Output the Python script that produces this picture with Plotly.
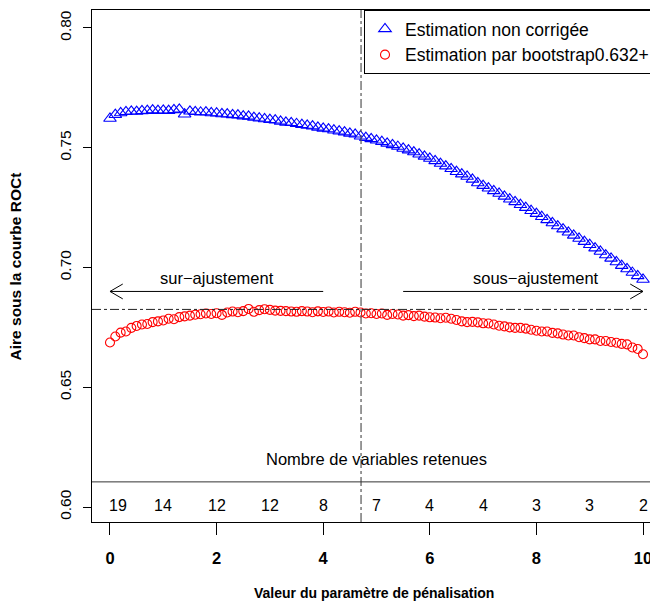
import plotly.graph_objects as go

x_vals = [round(i * 0.1, 1) for i in range(101)]

auc_uncorrected = [
    0.7622, 0.7638, 0.7645, 0.7650, 0.7652, 0.7651, 0.7654, 0.7655, 0.7657, 0.7655,
    0.7656, 0.7655, 0.7658, 0.7660, 0.7640, 0.7652, 0.7650, 0.7648, 0.7649, 0.7645,
    0.7644, 0.7641, 0.7640, 0.7637, 0.7636, 0.7632, 0.7631, 0.7626, 0.7623, 0.7620,
    0.7617, 0.7615, 0.7610, 0.7606, 0.7604, 0.7600, 0.7596, 0.7593, 0.7590, 0.7585,
    0.7581, 0.7578, 0.7573, 0.7569, 0.7565, 0.7560, 0.7556, 0.7548, 0.7542, 0.7537,
    0.7531, 0.7525, 0.7518, 0.7512, 0.7505, 0.7497, 0.7490, 0.7482, 0.7473, 0.7464,
    0.7455, 0.7445, 0.7434, 0.7423, 0.7412, 0.7400, 0.7390, 0.7380, 0.7368, 0.7353,
    0.7342, 0.7331, 0.7320, 0.7309, 0.7297, 0.7285, 0.7274, 0.7262, 0.7250, 0.7237,
    0.7225, 0.7212, 0.7199, 0.7186, 0.7173, 0.7160, 0.7147, 0.7134, 0.7121, 0.7108,
    0.7095, 0.7081, 0.7067, 0.7052, 0.7038, 0.7023, 0.7008, 0.6994, 0.6979, 0.6965,
    0.6950,
]

auc_bootstrap = [
    0.6687, 0.6712, 0.6728, 0.6733, 0.6748, 0.6756, 0.6762, 0.6764, 0.6772, 0.6775,
    0.6779, 0.6786, 0.6784, 0.6793, 0.6796, 0.6799, 0.6803, 0.6805, 0.6808, 0.6806,
    0.6809, 0.6802, 0.6812, 0.6816, 0.6813, 0.6818, 0.6827, 0.6815, 0.6822, 0.6826,
    0.6823, 0.6820, 0.6819, 0.6818, 0.6816, 0.6815, 0.6818, 0.6816, 0.6813, 0.6817,
    0.6814, 0.6816, 0.6812, 0.6815, 0.6813, 0.6811, 0.6815, 0.6812, 0.6808, 0.6809,
    0.6806, 0.6808, 0.6802, 0.6806, 0.6804, 0.6799, 0.6801, 0.6797, 0.6799, 0.6795,
    0.6792, 0.6791, 0.6788, 0.6790, 0.6786, 0.6781, 0.6775, 0.6772, 0.6773, 0.6771,
    0.6767, 0.6766, 0.6762, 0.6757, 0.6754, 0.6750, 0.6748, 0.6748, 0.6745, 0.6740,
    0.6736, 0.6733, 0.6733, 0.6727, 0.6725, 0.6720, 0.6716, 0.6716, 0.6709, 0.6705,
    0.6700, 0.6700, 0.6693, 0.6693, 0.6689, 0.6686, 0.6681, 0.6679, 0.6666, 0.6660,
    0.6638,
]

nvar_positions = [0.15, 1, 2, 3, 4, 5, 6, 7, 8, 9, 10]
nvar_labels = ["19", "14", "12", "12", "8", "7", "4", "4", "3", "3", "2"]

x_ticks = [0, 2, 4, 6, 8, 10]
y_ticks = [0.60, 0.65, 0.70, 0.75, 0.80]

optimal_lambda = 4.71
bootstrap_max = 0.6825
separator_y = 0.6105
nvar_title_y = 0.620
nvar_label_y = 0.6005
arrow_y = 0.690
arrow_text_y = 0.6955
left_arrow = (4.0, 0.0)
right_arrow = (5.5, 10.0)

FONT = "Liberation Sans, Arial, sans-serif"

fig = go.Figure()
fig.add_trace(go.Scatter(
    x=x_vals, y=auc_uncorrected, mode="markers", name="Estimation non corrigée",
    marker=dict(symbol="triangle-up-open", size=11, color="#0000FF", line=dict(width=1.1)),
))
fig.add_trace(go.Scatter(
    x=x_vals, y=auc_bootstrap, mode="markers", name="Estimation par bootstrap0.632+",
    marker=dict(symbol="circle-open", size=9, color="#FF0000", line=dict(width=1.1)),
))

shapes = []
shapes.append(dict(type="line", xref="x", yref="paper", x0=optimal_lambda, x1=optimal_lambda,
                   y0=0, y1=1, line=dict(color="#555555", width=1.2, dash="dashdot")))
shapes.append(dict(type="line", xref="paper", yref="y", x0=0, x1=1, y0=bootstrap_max, y1=bootstrap_max,
                   line=dict(color="#222222", width=1, dash="dashdot")))
shapes.append(dict(type="line", xref="paper", yref="y", x0=0, x1=1, y0=separator_y, y1=separator_y,
                   line=dict(color="#333333", width=1)))

hx = 0.24
hy = 0.0031
shapes.append(dict(type="line", x0=left_arrow[0], x1=left_arrow[1], y0=arrow_y, y1=arrow_y,
                   line=dict(color="black", width=1)))
shapes.append(dict(type="line", x0=left_arrow[1], x1=left_arrow[1] + hx, y0=arrow_y, y1=arrow_y + hy,
                   line=dict(color="black", width=1)))
shapes.append(dict(type="line", x0=left_arrow[1], x1=left_arrow[1] + hx, y0=arrow_y, y1=arrow_y - hy,
                   line=dict(color="black", width=1)))
shapes.append(dict(type="line", x0=right_arrow[0], x1=right_arrow[1], y0=arrow_y, y1=arrow_y,
                   line=dict(color="black", width=1)))
shapes.append(dict(type="line", x0=right_arrow[1], x1=right_arrow[1] - hx, y0=arrow_y, y1=arrow_y + hy,
                   line=dict(color="black", width=1)))
shapes.append(dict(type="line", x0=right_arrow[1], x1=right_arrow[1] - hx, y0=arrow_y, y1=arrow_y - hy,
                   line=dict(color="black", width=1)))

annotations = []
annotations.append(dict(x=2.0, y=arrow_text_y, text="sur\u2212ajustement", showarrow=False,
                        font=dict(size=16.5, color="black", family=FONT), yanchor="middle"))
annotations.append(dict(x=8.0, y=arrow_text_y, text="sous\u2212ajustement", showarrow=False,
                        font=dict(size=16.5, color="black", family=FONT), yanchor="middle"))
annotations.append(dict(x=5.0, y=nvar_title_y, text="Nombre de variables retenues", showarrow=False,
                        font=dict(size=16.5, color="black", family=FONT), yanchor="middle"))
for xp, lab in zip(nvar_positions, nvar_labels):
    annotations.append(dict(x=xp, y=nvar_label_y, text=lab, showarrow=False,
                            font=dict(size=16, color="black", family=FONT), yanchor="middle"))
annotations.append(dict(xref="paper", yref="paper", x=0.5, y=-0.138, yanchor="middle",
                        text="<b>Valeur du paramètre de pénalisation</b>", showarrow=False,
                        font=dict(size=14, color="black", family=FONT)))
annotations.append(dict(xref="paper", yref="paper", x=-0.136, y=0.5, xanchor="center", yanchor="middle",
                        text="<b>Aire sous la courbe ROCt</b>", textangle=-90, showarrow=False,
                        font=dict(size=15.5, color="black", family=FONT)))

# page has an 8px body margin: shrink the figure so the plot area lands where the reference has it
fig.update_layout(
    width=650, height=597,
    margin=dict(l=84, r=3, t=2, b=83),
    paper_bgcolor="white", plot_bgcolor="white",
    font=dict(family=FONT, size=15, color="black"),
    shapes=shapes, annotations=annotations,
    legend=dict(x=1, y=1, xanchor="right", yanchor="top", bordercolor="black", borderwidth=1,
                bgcolor="white", font=dict(size=17.5, family=FONT), itemwidth=30,
                tracegroupgap=0),
    showlegend=True,
)
fig.update_xaxes(
    range=[-0.3375, 10.225], tickvals=x_ticks, ticktext=[f"<b>{t}</b>" for t in x_ticks],
    ticks="outside", ticklen=12, tickwidth=1, tickcolor="black",
    showline=True, linecolor="black", linewidth=1, mirror=True,
    showgrid=False, zeroline=False, ticklabelstandoff=9,
    tickfont=dict(size=16.5, family=FONT),
)
fig.update_yaxes(
    range=[0.59375, 0.8075], tickvals=y_ticks, ticktext=[f"{t:.2f}" for t in y_ticks],
    ticks="outside", ticklen=8, tickwidth=1, tickcolor="black", tickangle=-90,
    showline=True, linecolor="black", linewidth=1, mirror=True,
    showgrid=False, zeroline=False, ticklabelstandoff=6,
    tickfont=dict(size=15.5, family=FONT),
)

fig.write_html("out.html")
